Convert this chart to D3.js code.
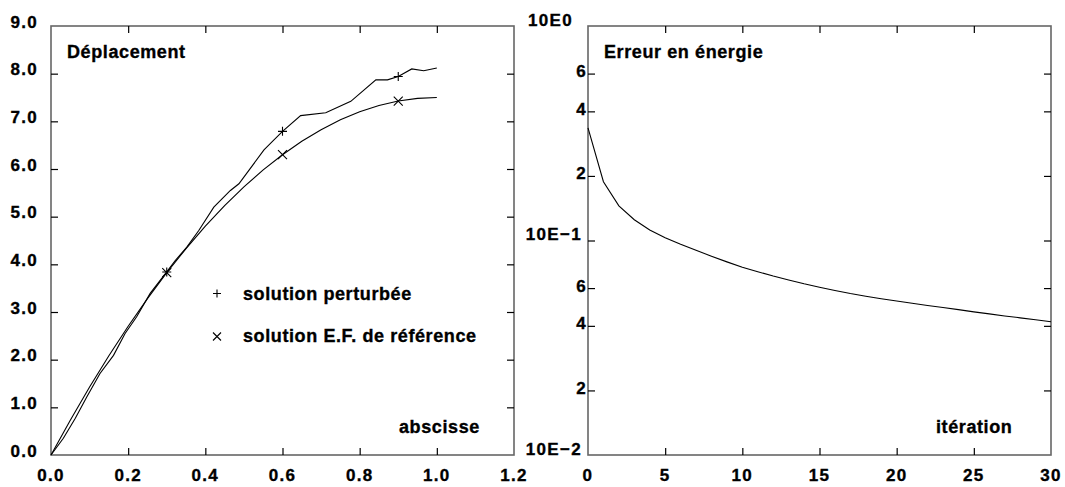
<!DOCTYPE html>
<html><head><meta charset="utf-8">
<script src="https://cdn.jsdelivr.net/npm/d3@7"></script>
<style>
html,body{margin:0;padding:0;background:#fff;}
text{font-family:"Liberation Sans",Arial,sans-serif;font-weight:bold;fill:#000;stroke:#000;stroke-width:0.35px;}
</style></head><body>
<svg id="c" width="1065" height="487"></svg>
<script>
// ---- data ----
const pertX = [0,0.032,0.063,0.093,0.127,0.162,0.192,0.222,0.257,0.3,0.322,0.352,0.383,0.422,0.465,0.487,0.552,0.6,0.647,0.712,0.777,0.842,0.872,0.9,0.935,0.966,1.0];
const pertY = [0,0.35,0.77,1.22,1.71,2.09,2.55,2.90,3.39,3.84,4.08,4.36,4.71,5.20,5.55,5.69,6.40,6.79,7.12,7.18,7.42,7.87,7.87,7.94,8.10,8.06,8.12];
const refX = [0,0.05,0.1,0.15,0.2,0.25,0.3,0.35,0.4,0.45,0.5,0.55,0.6,0.65,0.7,0.75,0.8,0.85,0.9,0.95,1.0];
const refY = [0,0.731,1.425,2.081,2.7,3.281,3.825,4.331,4.8,5.231,5.625,5.981,6.3,6.581,6.825,7.031,7.2,7.331,7.425,7.481,7.5];
const markerX = [0.3,0.6,0.9];
const iterX = [0,1,2,3,4,5,6,7,8,9,10,11,12,13,14,15,16,17,18,19,20,21,22,23,24,25,26,27,28,29,30];
const errY = [0.335,0.188,0.145,0.125,0.112,0.103,0.096,0.090,0.0845,0.0795,0.0750,0.0715,0.0683,0.0655,0.0628,0.0605,0.0585,0.0566,0.0550,0.0535,0.0522,0.0510,0.0498,0.0487,0.0476,0.0465,0.0455,0.0445,0.0436,0.0427,0.0418];
const xTicksL = [0,0.2,0.4,0.6,0.8,1.0,1.2];
const yTicksL = [0,1,2,3,4,5,6,7,8,9];
const xTicksR = [0,5,10,15,20,25,30];
const yTicksR = [1,0.6,0.4,0.2,0.1,0.06,0.04,0.02,0.01];
const yLabelsR = ["10E0","6","4","2","10E\u22121","6","4","2","10E\u22122"];
const legendLabels = ["solution perturbée","solution E.F. de référence"];
const titleL = "Déplacement", xTitleL = "abscisse";
const titleR = "Erreur en énergie", xTitleR = "itération";

const svg = d3.select("#c");
const xL = d3.scaleLinear([0,1.2],[51,514]);
const yL = d3.scaleLinear([0,9],[455,26]);
const xR = d3.scaleLinear([0,30],[588,1051]);
const yR = d3.scaleLog([0.01,1],[455,26]);

const TF = 17, TS = 1.3;   // tick label font / spacing
const HF = 18, HS = 0.6;   // titles font / spacing

function frame(x0,x1,y0,y1){
  svg.append("rect").attr("x",x0).attr("y",y0).attr("width",x1-x0).attr("height",y1-y0)
    .attr("fill","none").attr("stroke","#666").attr("stroke-width",1.6);
}
function ticksOnly(g){ g.select(".domain").remove(); g.selectAll("line").attr("stroke","#000").attr("stroke-width",1.2); g.selectAll("text").remove(); }

// ---- left panel ----
frame(51,514,26,455);
const ins = xTicksL.filter(v=>v>0&&v<1.2), insY = yTicksL.filter(v=>v>0&&v<9);
svg.append("g").attr("transform","translate(0,455)").call(d3.axisBottom(xL).tickValues(ins).tickSizeInner(-7).tickSizeOuter(0)).call(ticksOnly);
svg.append("g").attr("transform","translate(0,26)").call(d3.axisTop(xL).tickValues(ins).tickSizeInner(-7).tickSizeOuter(0)).call(ticksOnly);
svg.append("g").attr("transform","translate(51,0)").call(d3.axisLeft(yL).tickValues(insY).tickSizeInner(-7).tickSizeOuter(0)).call(ticksOnly);
svg.append("g").attr("transform","translate(514,0)").call(d3.axisRight(yL).tickValues(insY).tickSizeInner(-7).tickSizeOuter(0)).call(ticksOnly);

svg.append("g").selectAll("text").data(xTicksL).join("text")
  .attr("x",d=>xL(d)).attr("y",481).attr("text-anchor","middle").attr("font-size",TF).attr("letter-spacing",TS)
  .text(d=>d3.format(".1f")(d));
svg.append("g").selectAll("text").data(yTicksL).join("text")
  .attr("x",38).attr("y",d=>yL(d)+1.5).attr("text-anchor","end").attr("font-size",TF).attr("letter-spacing",TS)
  .text(d=>d3.format(".1f")(d));

const line = d3.line();
svg.append("path").attr("d",line(pertX.map((x,i)=>[xL(x),yL(pertY[i])])))
  .attr("fill","none").attr("stroke","#000").attr("stroke-width",1.1);
svg.append("path").attr("d",line(refX.map((x,i)=>[xL(x),yL(refY[i])])))
  .attr("fill","none").attr("stroke","#000").attr("stroke-width",1.1);

function plus(g,cx,cy,s){ g.append("path").attr("d",`M${cx-s},${cy}H${cx+s}M${cx},${cy-s}V${cy+s}`).attr("stroke","#000").attr("stroke-width",1.1).attr("fill","none"); }
function cross(g,cx,cy,s){ g.append("path").attr("d",`M${cx-s},${cy-s}L${cx+s},${cy+s}M${cx-s},${cy+s}L${cx+s},${cy-s}`).attr("stroke","#000").attr("stroke-width",1.1).attr("fill","none"); }
const mk = svg.append("g");
markerX.forEach(m=>{
  const i = pertX.indexOf(m); plus(mk,xL(pertX[i]),yL(pertY[i]),4.5);
  const j = refX.indexOf(m); cross(mk,xL(refX[j]),yL(refY[j]),4.5);
});

// titles & legend
svg.append("text").attr("x",67).attr("y",58).attr("font-size",HF).attr("letter-spacing",HS).text(titleL);
svg.append("text").attr("x",399).attr("y",433).attr("font-size",HF).attr("letter-spacing",HS).text(xTitleL);
plus(svg,217,293.5,4);
cross(svg,217,336.5,4);
svg.append("text").attr("x",243).attr("y",300).attr("font-size",HF).attr("letter-spacing",HS).text(legendLabels[0]);
svg.append("text").attr("x",243).attr("y",342).attr("font-size",HF).attr("letter-spacing",HS).text(legendLabels[1]);

// ---- right panel ----
frame(588,1051,26,455);
const insXR = xTicksR.filter(v=>v>0&&v<30), insYR = yTicksR.filter(v=>v<1&&v>0.01);
svg.append("g").attr("transform","translate(0,455)").call(d3.axisBottom(xR).tickValues(insXR).tickSizeInner(-7).tickSizeOuter(0)).call(ticksOnly);
svg.append("g").attr("transform","translate(0,26)").call(d3.axisTop(xR).tickValues(insXR).tickSizeInner(-7).tickSizeOuter(0)).call(ticksOnly);
svg.append("g").attr("transform","translate(588,0)").call(d3.axisLeft(yR).tickValues(insYR).tickSizeInner(-7).tickSizeOuter(0)).call(ticksOnly);
svg.append("g").attr("transform","translate(1051,0)").call(d3.axisRight(yR).tickValues(insYR).tickSizeInner(-7).tickSizeOuter(0)).call(ticksOnly);

svg.append("g").selectAll("text").data(xTicksR).join("text")
  .attr("x",d=>xR(d)).attr("y",481).attr("text-anchor","middle").attr("font-size",TF).attr("letter-spacing",TS)
  .text(d=>d);
svg.append("g").selectAll("text").data(yTicksR).join("text")
  .attr("x",(d,i)=>yLabelsR[i].length>1 ? (i===0?573:582) : 587)
  .attr("y",(d,i)=>yR(d)+(yLabelsR[i].length>1?-0.5:3.5)).attr("text-anchor","end").attr("font-size",TF).attr("letter-spacing",TS)
  .text((d,i)=>yLabelsR[i]);

svg.append("path").attr("d",line(iterX.map((x,i)=>[xR(x),yR(errY[i])])))
  .attr("fill","none").attr("stroke","#000").attr("stroke-width",1.1);

svg.append("text").attr("x",604).attr("y",58).attr("font-size",HF).attr("letter-spacing",HS).text(titleR);
svg.append("text").attr("x",936).attr("y",433).attr("font-size",HF).attr("letter-spacing",HS).text(xTitleR);
</script></body></html>
